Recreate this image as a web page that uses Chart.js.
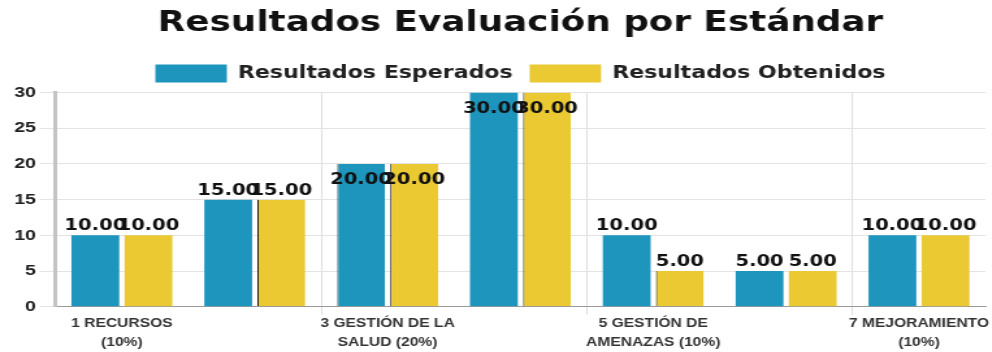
<!DOCTYPE html>
<html lang="es">
<head>
<meta charset="utf-8">
<title>Resultados Evaluación por Estándar</title>
<script src="https://cdn.jsdelivr.net/npm/chart.js@4.4.1/dist/chart.umd.min.js"></script>
<style>
  html, body { margin: 0; padding: 0; background: #fff; overflow: hidden; }
  /* the chart is laid out narrow and widened horizontally */
  #wrap { width: 763px; height: 352px; transform: scaleX(1.3); transform-origin: 0 0; }
</style>
</head>
<body>
<div id="wrap"><canvas id="chart"></canvas></div>
<script>
// Standards of the evaluation (category axis)
const categories = [
  '1 RECURSOS|(10%)',
  '2 GESTIÓN INTEGRAL DEL|SG-SST (15%)',
  '3 GESTIÓN DE LA|SALUD (20%)',
  '4 GESTIÓN DE PELIGROS|Y RIESGOS (30%)',
  '5 GESTIÓN DE|AMENAZAS (10%)',
  '6 VERIFICACIÓN DEL|SG-SST (5%)',
  '7 MEJORAMIENTO|(10%)'
];
const esperados = [10, 15, 20, 30, 10, 5, 10];
const obtenidos = [10, 15, 20, 30, 5, 5, 10];
const yTicks = [0, 5, 10, 15, 20, 25, 30];

const BLUE = '#1d95bd';
const YELLOW = '#eac932';

// thin dark edge on the left side of some bars
const edgeEsperados = [0, 0, 1, 0, 0, 0, 0];
const edgeObtenidos = [0, 1, 1, 1, 1, 0, 0];

// Value labels above each bar (inside the top of tall bars)
const valueLabels = {
  id: 'valueLabels',
  afterDatasetsDraw(chart) {
    const { ctx, chartArea } = chart;
    ctx.save();
    ctx.font = 'bold 15px "DejaVu Sans"';
    ctx.fillStyle = '#111';
    ctx.textAlign = 'center';
    ctx.textBaseline = 'alphabetic';
    chart.data.datasets.forEach((ds, di) => {
      const meta = chart.getDatasetMeta(di);
      meta.data.forEach((bar, i) => {
        const v = ds.data[i];
        const inside = bar.y < chartArea.top + chartArea.height * 0.4;
        const y = inside ? bar.y + 20 : bar.y - 5;
        ctx.fillText(v.toFixed(2), bar.x, y);
      });
    });
    ctx.restore();
  }
};

new Chart(document.getElementById('chart'), {
  type: 'bar',
  data: {
    labels: categories,
    datasets: [
      {
        label: 'Resultados Esperados', data: esperados, backgroundColor: BLUE,
        borderColor: '#555',
        borderWidth: (c) => ({ left: edgeEsperados[c.dataIndex] || 0, top: 0, right: 0, bottom: 0 })
      },
      {
        label: 'Resultados Obtenidos', data: obtenidos, backgroundColor: YELLOW,
        borderColor: '#1a1a1a',
        borderWidth: (c) => ({ left: edgeObtenidos[c.dataIndex] || 0, top: 0, right: 0, bottom: 0 })
      }
    ]
  },
  options: {
    responsive: true,
    maintainAspectRatio: false,
    animation: false,
    layout: { padding: { left: 8, right: 5, top: 0, bottom: 0 } },
    plugins: {
      title: {
        display: true,
        text: 'Resultados Evaluación por Estándar',
        fullSize: false,
        color: '#111',
        font: { family: '"DejaVu Sans"', size: 27.5, weight: 'bold' },
        padding: { top: 7, bottom: 11.5 }
      },
      legend: {
        fullSize: false,
        labels: {
          boxWidth: 55,
          boxHeight: 18,
          padding: 13,
          color: '#222',
          font: { family: '"DejaVu Sans"', size: 17, weight: 'bold' }
        }
      },
      tooltip: { enabled: false }
    },
    scales: {
      x: {
        grid: {
          color: (c) => (c.index === 2 || c.index === 4 || c.index === 6) ? '#dddddd' : 'rgba(0,0,0,0)',
          tickLength: 8
        },
        border: { color: '#9a9a9a', width: 1 },
        ticks: {
          autoSkip: false,
          maxRotation: 0,
          color: '#333',
          padding: 0,
          font: { family: '"Liberation Sans"', size: 12, weight: 'bold', lineHeight: 1.55 },
          callback: (v, i) => (i % 2 === 0 ? categories[i].split('|') : '')
        }
      },
      y: {
        min: yTicks[0],
        max: yTicks[yTicks.length - 1],
        afterBuildTicks: (scale) => { scale.ticks = yTicks.map((v) => ({ value: v })); },
        grid: { color: '#e3e3e3', tickLength: 12 },
        border: { color: '#c4c4c4', width: 3 },
        ticks: {
          color: '#222',
          padding: 3,
          font: { family: '"Liberation Sans"', size: 15, weight: 'bold' }
        }
      }
    }
  },
  plugins: [valueLabels]
});
</script>
</body>
</html>
